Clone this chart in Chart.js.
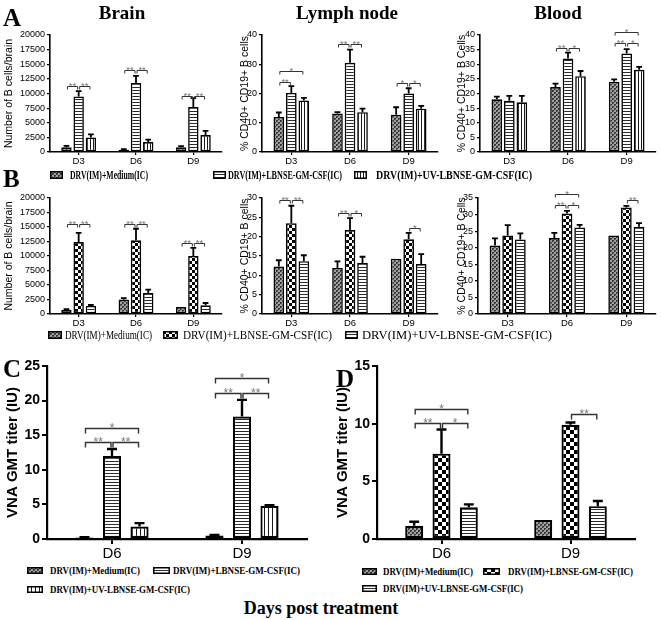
<!DOCTYPE html>
<html><head><meta charset="utf-8">
<script src="https://cdn.jsdelivr.net/npm/chart.js@4/dist/chart.umd.min.js"></script>
<style>
html,body{margin:0;padding:0;background:#fff;}
#wrap{position:relative;width:661px;height:620px;overflow:hidden;background:#fff;}
canvas.ch{position:absolute;}
.t{position:absolute;white-space:nowrap;color:#000;line-height:1;}
</style></head>
<body><div id="wrap"></div>
<script>
// ---------------- DATA ----------------
const days3 = ['D3','D6','D9'];
const days2 = ['D6','D9'];
const groupNames = ['DRV(IM)+Medium(IC)','DRV(IM)+LBNSE-GM-CSF(IC)','DRV(IM)+UV-LBNSE-GM-CSF(IC)'];

// Panel A - Brain (number of B cells/brain)
const aBrainMedium = [800, 400, 800];
const aBrainMediumErr = [250, 100, 200];
const aBrainLbnse = [9500, 11800, 7700];
const aBrainLbnseErr = [900, 1200, 1500];
const aBrainUv = [2500, 1700, 2900];
const aBrainUvErr = [500, 400, 700];
const aBrainSig = [[0,0,1,11200,'**'],[0,1,2,11200,'**'],[1,0,1,14000,'**'],[1,1,2,14000,'**'],[2,0,1,9500,'**'],[2,1,2,9500,'**']];

// Panel A - Lymph node (% CD40+ CD19+ B cells)
const aLymphMedium = [12, 13.2, 12.7];
const aLymphMediumErr = [1.5, 0.4, 2.6];
const aLymphLbnse = [20.2, 30.5, 20];
const aLymphLbnseErr = [2.3, 4.5, 1.8];
const aLymphUv = [17.6, 13.6, 14.8];
const aLymphUvErr = [0.9, 1.2, 1.0];
const aLymphSig = [[0,0,2,27.7,'*'],[0,0,1,24,'**'],[1,0,1,37,'**'],[1,1,2,37,'**'],[2,0,1,23.5,'*'],[2,1,2,23.5,'*']];

// Panel A - Blood
const aBloodMedium = [18, 22.2, 24];
const aBloodMediumErr = [0.9, 1.2, 0.8];
const aBloodLbnse = [17.5, 32, 33.7];
const aBloodLbnseErr = [1.7, 2, 1.5];
const aBloodUv = [17, 25.9, 28.1];
const aBloodUvErr = [2.2, 1.8, 1];
const aBloodSig = [[1,0,1,35.4,'**'],[1,1,2,35.4,'*'],[2,0,2,40.9,'*'],[2,0,1,37.1,'**'],[2,1,2,37.1,'*']];

// Panel B - Brain
const bBrainMedium = [700, 2500, 1200];
const bBrainMediumErr = [150, 250, 0];
const bBrainLbnse = [12400, 12700, 10000];
const bBrainLbnseErr = [1600, 2000, 1400];
const bBrainUv = [1400, 3600, 1500];
const bBrainUvErr = [150, 600, 400];
const bBrainSig = [[0,0,1,15500,'**'],[0,1,2,15500,'**'],[1,0,1,15500,'**'],[1,1,2,15500,'**'],[2,0,1,12200,'**'],[2,1,2,12200,'**']];

// Panel B - Lymph node
const bLymphMedium = [12.3, 11.9, 14.3];
const bLymphMediumErr = [1.6, 1.7, 0];
const bLymphLbnse = [23.5, 21.7, 19.3];
const bLymphLbnseErr = [4.5, 3.1, 1.7];
const bLymphUv = [13.65, 13.2, 12.9];
const bLymphUvErr = [1.55, 1.6, 2.6];
const bLymphSig = [[0,0,1,29.4,'**'],[0,1,2,29.4,'**'],[1,0,1,26.1,'**'],[1,1,2,26.1,'*'],[2,1,2,22.2,'*']];

// Panel B - Blood
const bBloodMedium = [20.7, 22.9, 23.7];
const bBloodMediumErr = [2.1, 1.6, 0];
const bBloodLbnse = [23.7, 30.3, 32.1];
const bBloodLbnseErr = [3.1, 0.8, 0.5];
const bBloodUv = [22.5, 26.1, 26.3];
const bBloodUvErr = [1.8, 0.8, 1.1];
const bBloodSig = [[1,0,2,36.2,'*'],[1,0,1,33,'**'],[1,1,2,33,'*'],[2,1,2,34.4,'**']];

// Panel C - VNA GMT titer
const cMedium = [0.2, 0.5];
const cMediumErr = [0.05, 0.1];
const cLbnse = [12, 17.7];
const cLbnseErr = [1, 2.4];
const cUv = [1.8, 4.8];
const cUvErr = [0.5, 0.1];
const cSig = [[0,0,2,16.1,'*'],[0,0,1,14,'**'],[0,1,2,14,'**'],[1,0,2,23.2,'*'],[1,0,1,21.1,'**'],[1,1,2,21.1,'**']];

// Panel D - VNA GMT titer
const dMedium = [1.15, 1.65];
const dMediumErr = [0.35, 0];
const dLbnse = [7.4, 9.9];
const dLbnseErr = [2.1, 0.2];
const dUv = [2.75, 2.85];
const dUvErr = [0.25, 0.45];
const dSig = [[0,0,2,11.3,'*'],[0,0,1,10.1,'**'],[0,1,2,10.1,'*'],[1,1,2,10.8,'**']];

// ---------------- PATTERNS ----------------
function mkPat(kind, n){
  const c = document.createElement('canvas');
  const x = c.getContext('2d');
  if(kind==='medium'){
    c.width=c.height=4;
    x.fillStyle='#a0a0a0'; x.fillRect(0,0,4,4);
    x.fillStyle='#333'; x.fillRect(0,0,2,2); x.fillRect(2,2,2,2);
    x.fillStyle='#707070'; x.fillRect(1,1,1,1); x.fillRect(3,3,1,1);
  } else if(kind==='h'){
    c.width=4; c.height=n;
    x.fillStyle='#fff'; x.fillRect(0,0,4,n);
    x.fillStyle='#2a2a2a'; x.fillRect(0,0,4,1);
  } else if(kind==='v'){
    c.width=n; c.height=4;
    x.fillStyle='#fff'; x.fillRect(0,0,n,4);
    x.fillStyle='#1a1a1a'; x.fillRect(0,0,1,4);
  } else if(kind==='chk'){
    c.width=c.height=2*n;
    x.fillStyle='#fff'; x.fillRect(0,0,2*n,2*n);
    x.fillStyle='#000'; x.fillRect(0,0,n,n); x.fillRect(n,n,n,n);
  }
  return c;
}
const patCanvases = {
  medium: mkPat('medium'), h3: mkPat('h',3), v3: mkPat('v',3), v4: mkPat('v',4),
  chk3: mkPat('chk',3), chk4: mkPat('chk',4)
};
function pattern(ctx, key){ return ctx.createPattern(patCanvases[key],'repeat'); }

// ---------------- PLUGINS ----------------
const errPlugin = {
  id:'errbars',
  afterDatasetsDraw(chart){
    const ctx = chart.ctx, ys = chart.scales.y;
    const lw = chart.config._config.errWidth || 2;
    chart.data.datasets.forEach((ds,i)=>{
      if(!ds.err) return;
      const meta = chart.getDatasetMeta(i);
      meta.data.forEach((el,j)=>{
        const e = ds.err[j]; if(!e) return;
        const yt = ys.getPixelForValue(ds.data[j]+e);
        const w = el.width*0.55;
        ctx.save();
        ctx.strokeStyle='#000'; ctx.lineWidth=lw; ctx.lineCap='butt';
        ctx.beginPath();
        ctx.moveTo(el.x, el.y); ctx.lineTo(el.x, yt);
        ctx.moveTo(el.x-w/2, yt); ctx.lineTo(el.x+w/2, yt);
        ctx.stroke();
        ctx.restore();
      });
    });
  }
};
function sigPlugin(items, fontSize, tick, lw){
  return {
    id:'sig',
    afterDatasetsDraw(chart){
      const ctx = chart.ctx, ys = chart.scales.y;
      ctx.save();
      items.forEach(([c,a,b,v,lab])=>{
        const xa = chart.getDatasetMeta(a).data[c].x + 1;
        const xb = chart.getDatasetMeta(b).data[c].x - 1;
        const y = Math.round(ys.getPixelForValue(v))+0.5;
        ctx.strokeStyle='#333'; ctx.lineWidth=lw;
        ctx.beginPath();
        ctx.moveTo(xa, y+tick); ctx.lineTo(xa, y); ctx.lineTo(xb, y); ctx.lineTo(xb, y+tick);
        ctx.stroke();
        ctx.fillStyle='#777';
        ctx.font = fontSize+'px "Liberation Sans", Arial, sans-serif';
        ctx.textAlign='center'; ctx.textBaseline='alphabetic';
        ctx.fillText(lab, (xa+xb)/2, y + fontSize*0.28);
      });
      ctx.restore();
    }
  };
}

// ---------------- BUILD ----------------
Chart.defaults.font.family = '"Liberation Sans", Arial, sans-serif';
const wrap = document.getElementById('wrap');

function makeChart(o){
  const cv = document.createElement('canvas');
  cv.width = o.box.w; cv.height = o.box.h; cv.className='ch';
  cv.style.left = o.box.x+'px'; cv.style.top = o.box.y+'px';
  wrap.appendChild(cv);
  const ctx = cv.getContext('2d');
  const yw = o.area.x0 - o.box.x, xh = o.box.y + o.box.h - o.area.y1;
  const pt = o.area.y0 - o.box.y, pr = o.box.x + o.box.w - o.area.x1;
  const lh = o.yTitleFont.size*1.2;
  const tpad = o.yTitleX - o.box.x - lh/2;
  const datasets = o.series.map((s,i)=>({
    label: groupNames[i], data: s.data, err: s.err,
    backgroundColor: pattern(ctx, s.pat), borderColor:'#000', borderWidth:o.bw, borderSkipped:false,
    categoryPercentage:o.cp, barPercentage:o.bp
  }));
  new Chart(cv, {
    type:'bar',
    errWidth:o.ew,
    data:{labels:o.labels, datasets},
    options:{
      responsive:false, animation:false, events:[],
      layout:{padding:{top:pt,right:pr,left:0,bottom:0}},
      plugins:{legend:{display:false}, tooltip:{enabled:false}},
      scales:{
        x:{
          grid:{display:true, drawOnChartArea:false, drawTicks:true, tickLength:o.tl, offset:false, color:'#000', lineWidth:o.tw, tickWidth:o.tw},
          border:{display:true, color:'#000', width:o.aw},
          ticks:{color:'#000', font:o.xFont, padding:o.xpad, autoSkip:false, maxRotation:0},
          afterFit(s){ s.height = xh; }
        },
        y:{
          min:o.min, max:o.max,
          grid:{display:true, drawOnChartArea:false, drawTicks:true, tickLength:o.tl, color:'#000', lineWidth:o.tw, tickWidth:o.tw},
          border:{display:true, color:'#000', width:o.aw},
          ticks:{stepSize:o.step, color:'#000', font:o.yFont, padding:2, callback:(v)=>String(v)},
          title:{display:true, text:o.yTitle, color:'#000', font:o.yTitleFont, padding:{top:tpad,bottom:0}},
          afterFit(s){ s.width = yw; }
        }
      }
    },
    plugins:[errPlugin, sigPlugin(o.sig, o.sigFont, o.sigTick, o.sigLw)]
  });
}

const smallCommon = {
  labels: days3, bw:1.6, ew:1.8, cp:0.64, bp:0.85, tl:3, tw:1.2, aw:1.6,
  xFont:{size:9.5}, yFont:{size:9}, xpad:1, yTitleFont:{size:10.5},
  sigFont:9.5, sigTick:3, sigLw:1
};
const bigCommon = {
  labels: days2, bw:2.2, ew:2.4, cp:0.635, bp:0.66, tl:5, tw:2, aw:2.2,
  xFont:{size:15}, yFont:{size:14, weight:'bold'}, xpad:1, yTitleFont:{size:15, weight:'bold'},
  sigFont:12, sigTick:5, sigLw:1.4
};

// Row A
makeChart(Object.assign({}, smallCommon, {
  box:{x:0,y:18,w:226,h:150}, area:{x0:50,x1:222,y0:35,y1:152},
  min:0,max:20000,step:2500, yTitle:'Number of B cells/brain', yTitleX:9,
  series:[{data:aBrainMedium,err:aBrainMediumErr,pat:'medium'},{data:aBrainLbnse,err:aBrainLbnseErr,pat:'h3'},{data:aBrainUv,err:aBrainUvErr,pat:'v3'}],
  sig:aBrainSig
}));
makeChart(Object.assign({}, smallCommon, {
  box:{x:226,y:18,w:214,h:150}, area:{x0:262,x1:438,y0:35,y1:152},
  min:0,max:40,step:10, yTitle:'% CD40+ CD19+ B cells', yTitleX:245,
  series:[{data:aLymphMedium,err:aLymphMediumErr,pat:'medium'},{data:aLymphLbnse,err:aLymphLbnseErr,pat:'h3'},{data:aLymphUv,err:aLymphUvErr,pat:'v3'}],
  sig:aLymphSig
}));
makeChart(Object.assign({}, smallCommon, {
  box:{x:440,y:18,w:221,h:150}, area:{x0:480,x1:656,y0:35,y1:152},
  min:0,max:40,step:5, yTitle:'% CD40+ CD19+ B Cells', yTitleX:462,
  series:[{data:aBloodMedium,err:aBloodMediumErr,pat:'medium'},{data:aBloodLbnse,err:aBloodLbnseErr,pat:'h3'},{data:aBloodUv,err:aBloodUvErr,pat:'v3'}],
  sig:aBloodSig
}));
// Row B
makeChart(Object.assign({}, smallCommon, {
  box:{x:0,y:180,w:226,h:150}, area:{x0:50,x1:222,y0:198,y1:314},
  min:0,max:20000,step:2500, yTitle:'Number of B cells/brain', yTitleX:9,
  series:[{data:bBrainMedium,err:bBrainMediumErr,pat:'medium'},{data:bBrainLbnse,err:bBrainLbnseErr,pat:'chk3'},{data:bBrainUv,err:bBrainUvErr,pat:'h3'}],
  sig:bBrainSig
}));
makeChart(Object.assign({}, smallCommon, {
  box:{x:226,y:180,w:214,h:150}, area:{x0:262,x1:438,y0:198,y1:314},
  min:0,max:30,step:5, yTitle:'% CD40+ CD19+ B cells', yTitleX:245,
  series:[{data:bLymphMedium,err:bLymphMediumErr,pat:'medium'},{data:bLymphLbnse,err:bLymphLbnseErr,pat:'chk3'},{data:bLymphUv,err:bLymphUvErr,pat:'h3'}],
  sig:bLymphSig
}));
makeChart(Object.assign({}, smallCommon, {
  box:{x:440,y:180,w:221,h:150}, area:{x0:478,x1:656,y0:198,y1:314},
  min:0,max:35,step:5, yTitle:'% CD40+ CD19+ B Cells', yTitleX:462,
  series:[{data:bBloodMedium,err:bBloodMediumErr,pat:'medium'},{data:bBloodLbnse,err:bBloodLbnseErr,pat:'chk3'},{data:bBloodUv,err:bBloodUvErr,pat:'h3'}],
  sig:bBloodSig
}));
// Row C / D
makeChart(Object.assign({}, bigCommon, {
  box:{x:0,y:350,w:315,h:211}, area:{x0:47,x1:307,y0:366,y1:539},
  min:0,max:25,step:5, yTitle:'VNA GMT titer (IU)', yTitleX:13,
  series:[{data:cMedium,err:cMediumErr,pat:'medium'},{data:cLbnse,err:cLbnseErr,pat:'h3'},{data:cUv,err:cUvErr,pat:'v4'}],
  sig:cSig
}));
makeChart(Object.assign({}, bigCommon, {
  box:{x:330,y:350,w:315,h:211}, area:{x0:377,x1:635,y0:366,y1:539},
  min:0,max:15,step:5, yTitle:'VNA GMT titer (IU)', yTitleX:343,
  series:[{data:dMedium,err:dMediumErr,pat:'medium'},{data:dLbnse,err:dLbnseErr,pat:'chk4'},{data:dUv,err:dUvErr,pat:'h3'}],
  sig:dSig
}));

// ---------------- TEXT ----------------
const mctx = document.createElement('canvas').getContext('2d');
function addText(txt, x, y, font, opt){
  opt = opt||{};
  const d = document.createElement('div');
  d.className='t'; d.textContent = txt;
  d.style.font = font;
  mctx.font = font;
  const nat = mctx.measureText(txt).width;
  let sx = 1;
  if(opt.w) sx = opt.w/nat;
  const left = opt.center ? x - nat*sx/2 : x;
  d.style.left = left+'px'; d.style.top = y+'px';
  d.style.transformOrigin = '0 50%';
  d.style.transform = 'translateY(-50%) scaleX('+sx+')';
  wrap.appendChild(d);
}
const serifB = (s)=>'bold '+s+'px "Liberation Serif", "Times New Roman", serif';
const serifR = (s)=>s+'px "Liberation Serif", "Times New Roman", serif';

addText('Brain', 122, 13, serifB(19), {center:true});
addText('Lymph node', 347, 13, serifB(19), {center:true});
addText('Blood', 558, 13, serifB(19), {center:true});
addText('A', 3, 18, serifB(25));
addText('B', 3, 179, serifB(25));
addText('C', 3, 369, serifB(25));
addText('D', 336, 379, serifB(25));
addText('Days post treatment', 321, 608, serifB(18), {center:true});

function swatch(x, y, w, h, key, bw){
  const c = document.createElement('canvas');
  c.width = w; c.height = h;
  c.style.position='absolute'; c.style.left=x+'px'; c.style.top=(y-h/2)+'px';
  const g = c.getContext('2d');
  g.fillStyle = g.createPattern(patCanvases[key],'repeat');
  g.fillRect(0,0,w,h);
  g.strokeStyle='#000'; g.lineWidth=bw;
  g.strokeRect(bw/2,bw/2,w-bw,h-bw);
  wrap.appendChild(c);
}
// Legend A
swatch(50,175,13,8,'medium',1.5); addText(groupNames[0],70,175,serifB(12),{w:78});
swatch(213,175,13,8,'h3',1.5); addText(groupNames[1],228,175,serifB(12),{w:114});
swatch(354,175,13,8,'v3',1.5); addText(groupNames[2],376,175,serifB(12),{w:156});
// Legend B
swatch(48,335,14,8,'medium',1.5); addText(groupNames[0],65,335,serifR(12),{w:87});
swatch(163,335,15,8,'chk3',1.5); addText(groupNames[1],183,335,serifR(12),{w:149});
swatch(345,335,13,8,'h3',1.5); addText(groupNames[2],362,335,serifR(12),{w:190});
// Legend C
swatch(27,570,16,7,'medium',1.5); addText(groupNames[0],50,570,serifB(10),{w:90});
swatch(153,570,17,7,'h3',1.5); addText(groupNames[1],173,570,serifB(10),{w:127});
swatch(27,589,16,7,'v4',1.5); addText(groupNames[2],50,589,serifB(10),{w:140});
// Legend D
swatch(362,571,15,7,'medium',1.5); addText(groupNames[0],383,571,serifB(10),{w:90});
swatch(483,571,17,7,'chk4',1.5); addText(groupNames[1],508,571,serifB(10),{w:125});
swatch(362,588,15,7,'h3',1.5); addText(groupNames[2],383,588,serifB(10),{w:140});
</script>
</body></html>
